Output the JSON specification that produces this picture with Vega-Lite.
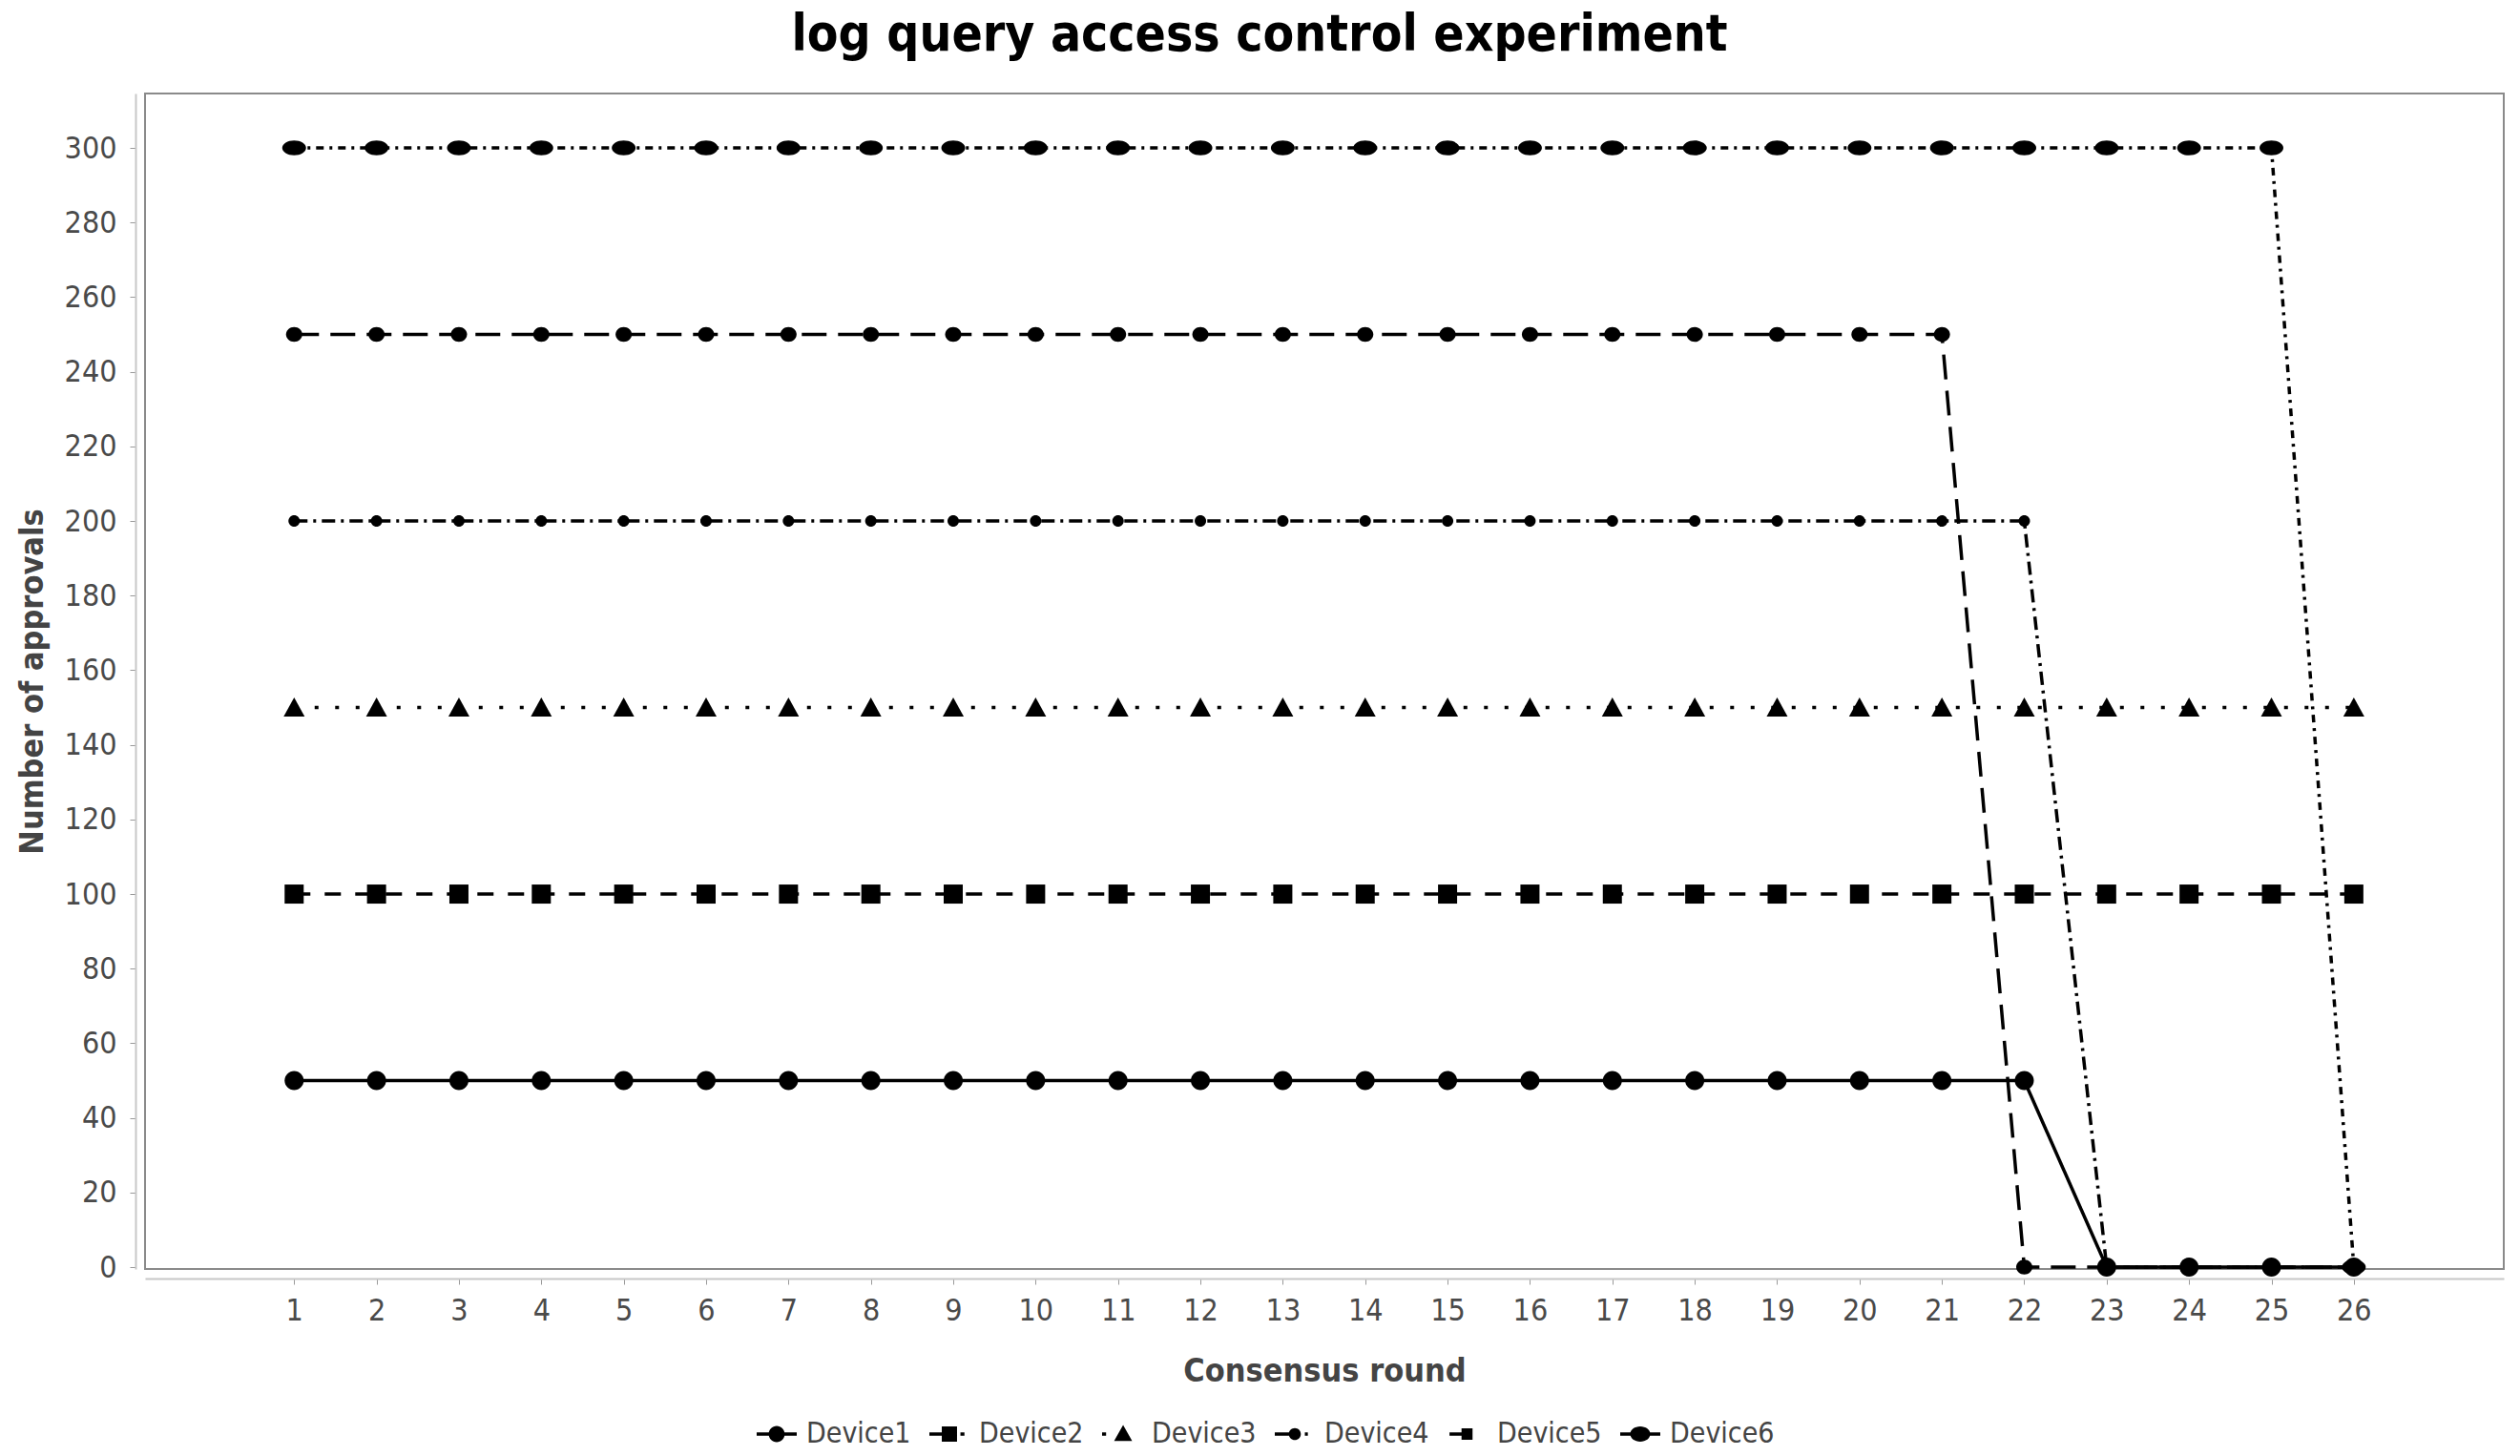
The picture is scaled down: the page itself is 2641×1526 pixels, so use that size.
{
  "$schema": "https://vega.github.io/schema/vega-lite/v6.json",
  "width": 2472,
  "height": 1232,
  "autosize": {"type": "none"},
  "padding": {"left": 152, "top": 98, "right": 17, "bottom": 196},
  "background": "white",
  "title": {
    "text": "log query access control experiment",
    "font": "DejaVu Sans Condensed, DejaVu Sans",
    "fontSize": 53,
    "fontWeight": "bold",
    "color": "#000000",
    "anchor": "middle",
    "dx": -68,
    "dy": 48,
    "baseline": "alphabetic",
    "offset": 40
  },
  "data": {
    "values": [
      {"round": 1, "device": "Device1", "approvals": 50},
      {"round": 2, "device": "Device1", "approvals": 50},
      {"round": 3, "device": "Device1", "approvals": 50},
      {"round": 4, "device": "Device1", "approvals": 50},
      {"round": 5, "device": "Device1", "approvals": 50},
      {"round": 6, "device": "Device1", "approvals": 50},
      {"round": 7, "device": "Device1", "approvals": 50},
      {"round": 8, "device": "Device1", "approvals": 50},
      {"round": 9, "device": "Device1", "approvals": 50},
      {"round": 10, "device": "Device1", "approvals": 50},
      {"round": 11, "device": "Device1", "approvals": 50},
      {"round": 12, "device": "Device1", "approvals": 50},
      {"round": 13, "device": "Device1", "approvals": 50},
      {"round": 14, "device": "Device1", "approvals": 50},
      {"round": 15, "device": "Device1", "approvals": 50},
      {"round": 16, "device": "Device1", "approvals": 50},
      {"round": 17, "device": "Device1", "approvals": 50},
      {"round": 18, "device": "Device1", "approvals": 50},
      {"round": 19, "device": "Device1", "approvals": 50},
      {"round": 20, "device": "Device1", "approvals": 50},
      {"round": 21, "device": "Device1", "approvals": 50},
      {"round": 22, "device": "Device1", "approvals": 50},
      {"round": 23, "device": "Device1", "approvals": 0},
      {"round": 24, "device": "Device1", "approvals": 0},
      {"round": 25, "device": "Device1", "approvals": 0},
      {"round": 26, "device": "Device1", "approvals": 0},
      {"round": 1, "device": "Device2", "approvals": 100},
      {"round": 2, "device": "Device2", "approvals": 100},
      {"round": 3, "device": "Device2", "approvals": 100},
      {"round": 4, "device": "Device2", "approvals": 100},
      {"round": 5, "device": "Device2", "approvals": 100},
      {"round": 6, "device": "Device2", "approvals": 100},
      {"round": 7, "device": "Device2", "approvals": 100},
      {"round": 8, "device": "Device2", "approvals": 100},
      {"round": 9, "device": "Device2", "approvals": 100},
      {"round": 10, "device": "Device2", "approvals": 100},
      {"round": 11, "device": "Device2", "approvals": 100},
      {"round": 12, "device": "Device2", "approvals": 100},
      {"round": 13, "device": "Device2", "approvals": 100},
      {"round": 14, "device": "Device2", "approvals": 100},
      {"round": 15, "device": "Device2", "approvals": 100},
      {"round": 16, "device": "Device2", "approvals": 100},
      {"round": 17, "device": "Device2", "approvals": 100},
      {"round": 18, "device": "Device2", "approvals": 100},
      {"round": 19, "device": "Device2", "approvals": 100},
      {"round": 20, "device": "Device2", "approvals": 100},
      {"round": 21, "device": "Device2", "approvals": 100},
      {"round": 22, "device": "Device2", "approvals": 100},
      {"round": 23, "device": "Device2", "approvals": 100},
      {"round": 24, "device": "Device2", "approvals": 100},
      {"round": 25, "device": "Device2", "approvals": 100},
      {"round": 26, "device": "Device2", "approvals": 100},
      {"round": 1, "device": "Device3", "approvals": 150},
      {"round": 2, "device": "Device3", "approvals": 150},
      {"round": 3, "device": "Device3", "approvals": 150},
      {"round": 4, "device": "Device3", "approvals": 150},
      {"round": 5, "device": "Device3", "approvals": 150},
      {"round": 6, "device": "Device3", "approvals": 150},
      {"round": 7, "device": "Device3", "approvals": 150},
      {"round": 8, "device": "Device3", "approvals": 150},
      {"round": 9, "device": "Device3", "approvals": 150},
      {"round": 10, "device": "Device3", "approvals": 150},
      {"round": 11, "device": "Device3", "approvals": 150},
      {"round": 12, "device": "Device3", "approvals": 150},
      {"round": 13, "device": "Device3", "approvals": 150},
      {"round": 14, "device": "Device3", "approvals": 150},
      {"round": 15, "device": "Device3", "approvals": 150},
      {"round": 16, "device": "Device3", "approvals": 150},
      {"round": 17, "device": "Device3", "approvals": 150},
      {"round": 18, "device": "Device3", "approvals": 150},
      {"round": 19, "device": "Device3", "approvals": 150},
      {"round": 20, "device": "Device3", "approvals": 150},
      {"round": 21, "device": "Device3", "approvals": 150},
      {"round": 22, "device": "Device3", "approvals": 150},
      {"round": 23, "device": "Device3", "approvals": 150},
      {"round": 24, "device": "Device3", "approvals": 150},
      {"round": 25, "device": "Device3", "approvals": 150},
      {"round": 26, "device": "Device3", "approvals": 150},
      {"round": 1, "device": "Device4", "approvals": 200},
      {"round": 2, "device": "Device4", "approvals": 200},
      {"round": 3, "device": "Device4", "approvals": 200},
      {"round": 4, "device": "Device4", "approvals": 200},
      {"round": 5, "device": "Device4", "approvals": 200},
      {"round": 6, "device": "Device4", "approvals": 200},
      {"round": 7, "device": "Device4", "approvals": 200},
      {"round": 8, "device": "Device4", "approvals": 200},
      {"round": 9, "device": "Device4", "approvals": 200},
      {"round": 10, "device": "Device4", "approvals": 200},
      {"round": 11, "device": "Device4", "approvals": 200},
      {"round": 12, "device": "Device4", "approvals": 200},
      {"round": 13, "device": "Device4", "approvals": 200},
      {"round": 14, "device": "Device4", "approvals": 200},
      {"round": 15, "device": "Device4", "approvals": 200},
      {"round": 16, "device": "Device4", "approvals": 200},
      {"round": 17, "device": "Device4", "approvals": 200},
      {"round": 18, "device": "Device4", "approvals": 200},
      {"round": 19, "device": "Device4", "approvals": 200},
      {"round": 20, "device": "Device4", "approvals": 200},
      {"round": 21, "device": "Device4", "approvals": 200},
      {"round": 22, "device": "Device4", "approvals": 200},
      {"round": 23, "device": "Device4", "approvals": 0},
      {"round": 24, "device": "Device4", "approvals": 0},
      {"round": 25, "device": "Device4", "approvals": 0},
      {"round": 26, "device": "Device4", "approvals": 0},
      {"round": 1, "device": "Device5", "approvals": 250},
      {"round": 2, "device": "Device5", "approvals": 250},
      {"round": 3, "device": "Device5", "approvals": 250},
      {"round": 4, "device": "Device5", "approvals": 250},
      {"round": 5, "device": "Device5", "approvals": 250},
      {"round": 6, "device": "Device5", "approvals": 250},
      {"round": 7, "device": "Device5", "approvals": 250},
      {"round": 8, "device": "Device5", "approvals": 250},
      {"round": 9, "device": "Device5", "approvals": 250},
      {"round": 10, "device": "Device5", "approvals": 250},
      {"round": 11, "device": "Device5", "approvals": 250},
      {"round": 12, "device": "Device5", "approvals": 250},
      {"round": 13, "device": "Device5", "approvals": 250},
      {"round": 14, "device": "Device5", "approvals": 250},
      {"round": 15, "device": "Device5", "approvals": 250},
      {"round": 16, "device": "Device5", "approvals": 250},
      {"round": 17, "device": "Device5", "approvals": 250},
      {"round": 18, "device": "Device5", "approvals": 250},
      {"round": 19, "device": "Device5", "approvals": 250},
      {"round": 20, "device": "Device5", "approvals": 250},
      {"round": 21, "device": "Device5", "approvals": 250},
      {"round": 22, "device": "Device5", "approvals": 0},
      {"round": 23, "device": "Device5", "approvals": 0},
      {"round": 24, "device": "Device5", "approvals": 0},
      {"round": 25, "device": "Device5", "approvals": 0},
      {"round": 26, "device": "Device5", "approvals": 0},
      {"round": 1, "device": "Device6", "approvals": 300},
      {"round": 2, "device": "Device6", "approvals": 300},
      {"round": 3, "device": "Device6", "approvals": 300},
      {"round": 4, "device": "Device6", "approvals": 300},
      {"round": 5, "device": "Device6", "approvals": 300},
      {"round": 6, "device": "Device6", "approvals": 300},
      {"round": 7, "device": "Device6", "approvals": 300},
      {"round": 8, "device": "Device6", "approvals": 300},
      {"round": 9, "device": "Device6", "approvals": 300},
      {"round": 10, "device": "Device6", "approvals": 300},
      {"round": 11, "device": "Device6", "approvals": 300},
      {"round": 12, "device": "Device6", "approvals": 300},
      {"round": 13, "device": "Device6", "approvals": 300},
      {"round": 14, "device": "Device6", "approvals": 300},
      {"round": 15, "device": "Device6", "approvals": 300},
      {"round": 16, "device": "Device6", "approvals": 300},
      {"round": 17, "device": "Device6", "approvals": 300},
      {"round": 18, "device": "Device6", "approvals": 300},
      {"round": 19, "device": "Device6", "approvals": 300},
      {"round": 20, "device": "Device6", "approvals": 300},
      {"round": 21, "device": "Device6", "approvals": 300},
      {"round": 22, "device": "Device6", "approvals": 300},
      {"round": 23, "device": "Device6", "approvals": 300},
      {"round": 24, "device": "Device6", "approvals": 300},
      {"round": 25, "device": "Device6", "approvals": 300},
      {"round": 26, "device": "Device6", "approvals": 0}
    ]
  },
  "encoding": {
    "x": {
      "field": "round",
      "type": "quantitative",
      "scale": {"domain": [-0.81, 27.82], "nice": false, "zero": false},
      "axis": {
        "values": [1,2,3,4,5,6,7,8,9,10,11,12,13,14,15,16,17,18,19,20,21,22,23,24,25,26],
        "format": "d",
        "title": "Consensus round",
        "labelPadding": 12,
        "titlePadding": 31
      }
    },
    "y": {
      "field": "approvals",
      "type": "quantitative",
      "scale": {"domain": [-0.5, 314.6], "nice": false, "zero": false},
      "axis": {
        "values": [0,20,40,60,80,100,120,140,160,180,200,220,240,260,280,300],
        "title": "Number of approvals",
        "labelPadding": 14,
        "titlePadding": 16
      }
    }
  },
  "layer": [
    {
      "mark": {"type": "line", "color": "#000000", "strokeWidth": 3.5},
      "encoding": {
        "strokeDash": {
          "field": "device",
          "type": "nominal",
          "scale": {
            "domain": ["Device1","Device2","Device3","Device4","Device5","Device6"],
            "range": [[1,0],[17,15],[4,17.5],[14,6,3,6],[26,12],[8,6,3,6]]
          },
          "legend": null
        }
      }
    },
    {
      "mark": {"type": "point", "filled": true, "color": "#000000", "opacity": 1, "size": 625, "strokeWidth": 0},
      "encoding": {
        "shape": {
          "field": "device",
          "type": "nominal",
          "scale": {
            "domain": ["Device1","Device2","Device3","Device4","Device5","Device6"],
            "range": [
              "M0.8,0A0.8,0.8 0 1,1 -0.8,0A0.8,0.8 0 1,1 0.8,0Z",
              "M-0.8,-0.8H0.8V0.8H-0.8Z",
              "M0,-0.85L0.88,0.75H-0.88Z",
              "M0.48,0A0.48,0.48 0 1,1 -0.48,0A0.48,0.48 0 1,1 0.48,0Z",
              "M0.68,0A0.68,0.62 0 1,1 -0.68,0A0.68,0.62 0 1,1 0.68,0Z",
              "M1,0A1,0.62 0 1,1 -1,0A1,0.62 0 1,1 1,0Z"
            ]
          },
          "legend": null
        }
      }
    },
    {
      "transform": [{"filter": "datum.round < 0"}],
      "mark": {"type": "point", "filled": true, "color": "#000000", "opacity": 1, "strokeWidth": 0},
      "encoding": {
        "shape": {
          "field": "device",
          "type": "nominal",
          "scale": {
            "domain": ["Device1","Device2","Device3","Device4","Device5","Device6"],
            "range": [
              "M-1,-0.08H1V0.08H-1Z M0.4,0A0.4,0.4 0 1,1 -0.4,0A0.4,0.4 0 1,1 0.4,0Z",
              "M-1,-0.08H-0.35V0.08H-1Z M-0.38,-0.38H0.38V0.38H-0.38Z M0.55,-0.08H0.75V0.08H0.55Z",
              "M-1,-0.08H-0.8V0.08H-1Z M0.05,-0.45L0.5,0.35H-0.4Z",
              "M-1,-0.08H-0.1V0.08H-1Z M0.3,0A0.3,0.3 0 1,1 -0.3,0A0.3,0.3 0 1,1 0.3,0Z M0.5,-0.08H0.65V0.08H0.5Z",
              "M-0.9,-0.08H-0.2V0.08H-0.9Z M-0.3,-0.28H0.25V0.28H-0.3Z",
              "M-1,-0.08H1V0.08H-1Z M0.5,0A0.5,0.38 0 1,1 -0.5,0A0.5,0.38 0 1,1 0.5,0Z"
            ]
          },
          "legend": {
            "orient": "none",
            "legendX": 641,
            "legendY": 1384,
            "direction": "horizontal",
            "columns": 6,
            "title": null,
            "symbolSize": 1764,
            "symbolStrokeWidth": 0,
            "symbolFillColor": "#000000",
            "symbolOpacity": 1,
            "labelFont": "DejaVu Sans Condensed, DejaVu Sans",
            "labelFontSize": 30,
            "labelColor": "#444444",
            "labelOffset": 10,
            "columnPadding": 19
          }
        }
      }
    }
  ],
  "resolve": {"scale": {"shape": "independent"}, "legend": {"shape": "independent"}},
  "config": {
    "view": {"stroke": "#8a8a8a", "strokeWidth": 2},
    "axis": {
      "grid": false,
      "offset": 10,
      "domainColor": "#c8c8c8",
      "domainWidth": 2,
      "tickColor": "#9a9a9a",
      "tickSize": 6,
      "tickWidth": 1,
      "labelFont": "DejaVu Sans Condensed, DejaVu Sans",
      "labelFontSize": 32,
      "labelColor": "#4a4a4a",
      "titleFont": "DejaVu Sans Condensed, DejaVu Sans",
      "titleFontSize": 34,
      "titleFontWeight": "bold",
      "titleColor": "#444444"
    }
  }
}
